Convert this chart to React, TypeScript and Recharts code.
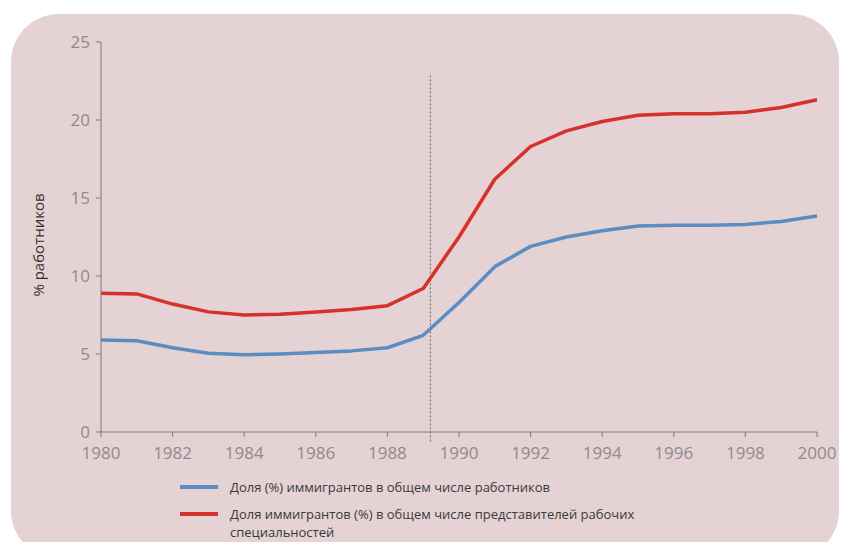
import { LineChart, Line, XAxis, YAxis, ReferenceLine } from 'recharts';

const years = [1980, 1981, 1982, 1983, 1984, 1985, 1986, 1987, 1988, 1989, 1990, 1991, 1992, 1993, 1994, 1995, 1996, 1997, 1998, 1999, 2000];
const allWorkers = [5.9, 5.85, 5.4, 5.05, 4.95, 5.0, 5.1, 5.2, 5.4, 6.2, 8.3, 10.6, 11.9, 12.5, 12.9, 13.2, 13.25, 13.25, 13.3, 13.5, 13.85];
const blueCollar = [8.9, 8.85, 8.2, 7.7, 7.5, 7.55, 7.7, 7.85, 8.1, 9.2, 12.5, 16.2, 18.3, 19.3, 19.9, 20.3, 20.4, 20.4, 20.5, 20.8, 21.3];
const xTicks = [1980, 1982, 1984, 1986, 1988, 1990, 1992, 1994, 1996, 1998, 2000];
const yTicks = [0, 5, 10, 15, 20, 25];
const markerYear = 1989.2;

const BLUE = '#5b8cc2';
const RED = '#d6312b';
const FONT = '"Open Sans", "DejaVu Sans", sans-serif';

const data = years.map((year, i) => ({ year, all: allWorkers[i], blue: blueCollar[i] }));

export default function App() {
  const tickStyle = { fill: '#8c8c8c', fontSize: 17, fontFamily: FONT };
  return (
    <div style={{ position: 'absolute', left: 0, top: 0, width: 845, height: 542, overflow: 'hidden', background: '#fff' }}>
      <div
        style={{
          position: 'absolute',
          left: 11,
          top: 14,
          width: 828,
          height: 545,
          background: '#e5d2d4',
          borderRadius: 48,
        }}
      />
      <div
        style={{
          position: 'absolute',
          left: 38,
          top: 245,
          transform: 'translate(-50%, -50%) rotate(-90deg)',
          whiteSpace: 'nowrap',
          fontFamily: FONT,
          fontSize: 15,
          color: '#333',
        }}
      >
        % работников
      </div>
      <div style={{ position: 'absolute', left: 0, top: 0 }}>
        <LineChart width={845} height={472} data={data} margin={{ top: 42, right: 28, left: 0, bottom: 0 }}>
          <XAxis
            dataKey="year"
            type="number"
            domain={[1980, 2000]}
            ticks={xTicks}
            stroke="#7a7a7a"
            tickSize={5}
            tickMargin={10}
            height={40}
            tick={tickStyle}
          />
          <YAxis
            type="number"
            domain={[0, 25]}
            ticks={yTicks}
            stroke="#7a7a7a"
            tickSize={5}
            tickMargin={6}
            width={101}
            tick={tickStyle}
          />
          <ReferenceLine
            segment={[{ x: markerYear, y: -0.6 }, { x: markerYear, y: 23 }]}
            ifOverflow="visible"
            stroke="#666"
            strokeDasharray="2 2"
            strokeWidth={1}
          />
          <Line type="linear" dataKey="blue" stroke={RED} strokeWidth={3.5} strokeLinejoin="round" dot={false} isAnimationActive={false} />
          <Line type="linear" dataKey="all" stroke={BLUE} strokeWidth={3.5} strokeLinejoin="round" dot={false} isAnimationActive={false} />
        </LineChart>
      </div>
      <div style={{ position: 'absolute', left: 180, top: 476, fontFamily: FONT, fontSize: 13, color: '#3a3a3a', lineHeight: '18px' }}>
        <div style={{ display: 'flex', alignItems: 'center', height: 22 }}>
          <span style={{ display: 'inline-block', width: 38, height: 4, background: BLUE, marginRight: 12 }} />
          <span>Доля (%) иммигрантов в общем числе работников</span>
        </div>
        <div style={{ display: 'flex', alignItems: 'flex-start', marginTop: 7 }}>
          <span style={{ display: 'inline-block', width: 38, height: 4, background: RED, marginRight: 12, marginTop: 7 }} />
          <span style={{ width: 440 }}>
            Доля иммигрантов (%) в общем числе представителей рабочих
            <br />
            специальностей
          </span>
        </div>
      </div>
    </div>
  );
}
